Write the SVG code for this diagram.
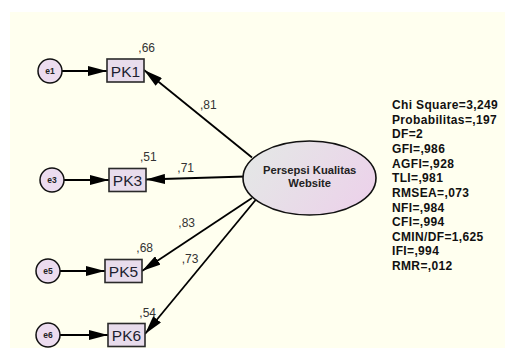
<svg xmlns="http://www.w3.org/2000/svg" width="505" height="348" viewBox="0 0 505 348">
<defs>
<linearGradient id="gEll" x1="0" y1="0.3" x2="1" y2="0.7">
<stop offset="0" stop-color="#e4e7e6"/>
<stop offset="1" stop-color="#ecd2ea"/>
</linearGradient>
<marker id="ah" markerUnits="userSpaceOnUse" markerWidth="19" markerHeight="10" refX="19" refY="5" orient="auto">
<path d="M0,0 L19,5 L0,10 z" fill="#000"/>
</marker>
</defs>
<style>
.obs{fill:#e8dcec;stroke:#2a2a2a;stroke-width:1.6}
.err{fill:#ecdcef;stroke:#111;stroke-width:1.5}
.lat{fill:url(#gEll);stroke:#111;stroke-width:1.6}
.cn{stroke:#000;stroke-width:1.8;fill:none;marker-end:url(#ah)}
.pk{font-family:"Liberation Sans",Arial,sans-serif;font-size:15.5px;fill:#1e1e30;text-anchor:middle}
.el{font-family:"Liberation Sans",Arial,sans-serif;font-size:8.5px;font-weight:bold;fill:#222;text-anchor:middle}
.num{font-family:"Liberation Sans",Arial,sans-serif;font-size:12px;fill:#333;text-anchor:middle}
.lt{font-family:"Liberation Sans",Arial,sans-serif;font-size:11.2px;font-weight:bold;fill:#222;text-anchor:middle}
.st{font-family:"Liberation Sans",Arial,sans-serif;font-size:12px;font-weight:bold;fill:#111;letter-spacing:0.35px}
</style>
<rect x="0" y="0" width="505" height="348" fill="#ffffff"/>
<rect x="10" y="12" width="495" height="336" fill="#ffffef"/>
<g id="connectors">
<line class="cn" x1="62" y1="71" x2="107" y2="71"/>
<line class="cn" x1="64" y1="180" x2="109" y2="180"/>
<line class="cn" x1="60" y1="271" x2="105" y2="271"/>
<line class="cn" x1="60" y1="335" x2="108" y2="335"/>
<line class="cn" x1="252" y1="157.5" x2="144" y2="70"/>
<line class="cn" x1="245" y1="176.5" x2="146" y2="179.5"/>
<line class="cn" x1="252" y1="198" x2="142" y2="271"/>
<line class="cn" x1="256" y1="199.5" x2="145" y2="334"/>
</g>
<g id="PK1"><rect class="obs" x="107" y="59" width="37" height="23"/><text class="pk" x="125.5" y="76.5">PK1</text><text class="num" x="146.7" y="52">,66</text></g>
<g id="PK3"><rect class="obs" x="109" y="168.5" width="37" height="23"/><text class="pk" x="127.5" y="186">PK3</text><text class="num" x="148.3" y="161">,51</text></g>
<g id="PK5"><rect class="obs" x="105" y="259.5" width="37" height="23"/><text class="pk" x="123.5" y="277">PK5</text><text class="num" x="144.7" y="252.3">,68</text></g>
<g id="PK6"><rect class="obs" x="108" y="323.5" width="37" height="23"/><text class="pk" x="126.5" y="341">PK6</text><text class="num" x="147.7" y="317">,54</text></g>
<g id="e1"><circle class="err" cx="50" cy="71" r="12"/><text class="el" x="50" y="74">e1</text></g>
<g id="e3"><circle class="err" cx="52" cy="180" r="12"/><text class="el" x="52" y="183">e3</text></g>
<g id="e5"><circle class="err" cx="48" cy="271" r="12"/><text class="el" x="48" y="274">e5</text></g>
<g id="e6"><circle class="err" cx="48" cy="335" r="12"/><text class="el" x="48" y="338">e6</text></g>
<g id="PKW"><ellipse class="lat" cx="309.5" cy="178" rx="66.5" ry="37"/><text class="lt" x="309.7" y="174">Persepsi Kualitas</text><text class="lt" x="309.7" y="186.5">Website</text></g>
<g id="loadings">
<text class="num" x="208.3" y="109">,81</text>
<text class="num" x="185.7" y="172.3">,71</text>
<text class="num" x="186.7" y="226.7">,83</text>
<text class="num" x="190" y="263.3">,73</text>
</g>
<g id="fit">
<text class="st" x="392" y="109">Chi Square=3,249</text>
<text class="st" x="392" y="123.6">Probabilitas=,197</text>
<text class="st" x="392" y="138.3">DF=2</text>
<text class="st" x="392" y="152.9">GFI=,986</text>
<text class="st" x="392" y="167.6">AGFI=,928</text>
<text class="st" x="392" y="182.2">TLI=,981</text>
<text class="st" x="392" y="196.8">RMSEA=,073</text>
<text class="st" x="392" y="211.5">NFI=,984</text>
<text class="st" x="392" y="226.1">CFI=,994</text>
<text class="st" x="392" y="240.8">CMIN/DF=1,625</text>
<text class="st" x="392" y="255.4">IFI=,994</text>
<text class="st" x="392" y="270">RMR=,012</text>
</g>
</svg>
